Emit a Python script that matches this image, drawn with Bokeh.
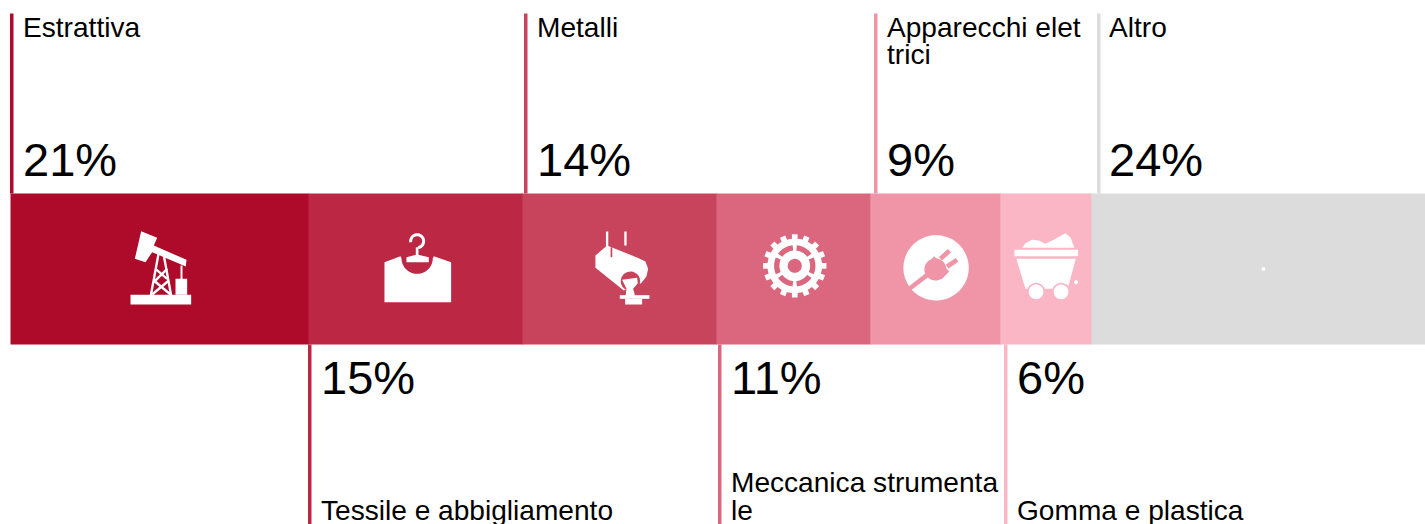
import numpy as np
from bokeh.plotting import figure
from bokeh.models import Range1d
from bokeh.core.properties import value
from bokeh.embed import file_html
from bokeh.resources import INLINE

# ---------- data ----------
categories = ["Estrattiva", "Tessile e abbigliamento", "Metalli", "Meccanica strumentale",
              "Apparecchi elettrici", "Gomma e plastica", "Altro"]
shares = [21.06, 15.12, 13.71, 10.88, 9.19, 6.43, 23.61]
percent_labels = ["21%", "15%", "14%", "11%", "9%", "6%", "24%"]
name_lines = [["Estrattiva"], ["Tessile e abbigliamento"], ["Metalli"], ["Meccanica strumenta", "le"],
              ["Apparecchi elet", "trici"], ["Gomma e plastica"], ["Altro"]]
colors = ["#ae0a2a", "#bc2744", "#c8445d", "#db677f", "#f095a8", "#fbb6c6", "#dcdcdc"]

# ---------- layout ----------
W, H = 1425, 524
PX_PER_UNIT = 14.15
ORIGIN_PX = 10
BAR_TOP, BAR_BOTTOM = 193, 344
CY = 268.5
LEADER_X = [9.5, 307.5, 523.5, 717.5, 873.5, 1003.5, 1096.5]
LEADER_W = 3.5
TOP_Y, BOTTOM_Y = 13, 524
TEXT_X = [22.5, 320.5, 536.5, 730.5, 886.5, 1016.5, 1108.5]
LINE_H = 27.5
SEAM = 0.04
NAME_PX, PCT_PX = 28.1, 47
# the svg backend draws "alphabetic" text lower than its y, in proportion to the size
NAME_SHIFT, PCT_SHIFT = 0.37 * NAME_PX, 0.37 * PCT_PX

p = figure(width=W, height=H, output_backend="svg", toolbar_location=None,
           x_range=Range1d(-ORIGIN_PX / PX_PER_UNIT, (W - ORIGIN_PX) / PX_PER_UNIT), y_range=Range1d(H, 0),
           min_border=0, min_border_left=0, min_border_right=0, min_border_top=0, min_border_bottom=0)
p.extra_x_ranges = {"px": Range1d(0, W)}
p.axis.visible = False
p.grid.visible = False
p.outline_line_color = None
p.background_fill_color = "white"
p.border_fill_color = "white"

# bars from the shares
cum = np.cumsum([0] + shares)
left, right = cum[:-1], cum[1:]
p.quad(left=left, right=right + SEAM, top=BAR_TOP, bottom=BAR_BOTTOM, fill_color=colors, line_color=None)

# leaders
lx = np.array(LEADER_X, dtype=float)
is_top = [i % 2 == 0 for i in range(len(shares))]
p.quad(left=lx, right=lx + LEADER_W,
       top=[TOP_Y if t else BAR_BOTTOM for t in is_top],
       bottom=[BAR_TOP if t else BOTTOM_Y for t in is_top],
       fill_color=colors, line_color=None, x_range_name="px")

# texts
FONT = value("Liberation Sans")
nx, ny, nt = [], [], []
px, py, pt = [], [], []
for i, lines in enumerate(name_lines):
    x = TEXT_X[i]
    n = len(lines)
    for j, line in enumerate(lines):
        if is_top[i]:
            y = 37 + j * LINE_H
        else:
            y = 520 - (n - 1 - j) * LINE_H
        nx.append(x); ny.append(y - NAME_SHIFT); nt.append(line)
    px.append(x); pt.append(percent_labels[i])
    py.append((176 if is_top[i] else 394) - PCT_SHIFT)
p.text(x=nx, y=ny, text=nt, text_font=FONT, text_font_size=f"{NAME_PX}px", text_color="#000000",
       text_baseline="alphabetic", text_align="left", x_range_name="px")
p.text(x=px, y=py, text=pt, text_font=FONT, text_font_size=f"{PCT_PX}px", text_color="#000000",
       text_baseline="alphabetic", text_align="left", x_range_name="px")

# ---------- icons (drawn in 1/3 px local units, placed on each bar's centre) ----------
WHITE = "#ffffff"
centres = ORIGIN_PX + (left + right) / 2 * PX_PER_UNIT
sx, sy, sc = [], [], []


def put(i, pts, u0, v0, col=WHITE):
    a = np.array(pts, dtype=float)
    sx.append(list(centres[i] + (a[:, 0] - u0) / 3))
    sy.append(list(CY + (a[:, 1] - v0) / 3))
    sc.append(col)


def disc(cu, cv, r, n=48, a0=0.0, a1=2 * np.pi):
    t = np.linspace(a0, a1, n)
    return np.c_[cu + r * np.cos(t), cv + r * np.sin(t)]


def sector(cu, cv, r0, r1, a0, a1, n=24):
    return np.r_[disc(cu, cv, r1, n, a0, a1), disc(cu, cv, r0, n, a1, a0)]


def stroke(p0, p1, w):
    a, b = np.array(p0, float), np.array(p1, float)
    d = b - a
    nrm = np.array([-d[1], d[0]]) / np.hypot(*d) * w / 2
    return np.array([a + nrm, b + nrm, b - nrm, a - nrm])


def rect(u0, v0, u1, v1):
    return [(u0, v0), (u1, v0), (u1, v1), (u0, v1)]


# oil pump
O = (477, 235.5)
put(0, rect(390, 313, 572, 342), *O)
put(0, [(422, 122), (470, 142), (460, 165), (558, 208), (556, 228), (455, 185), (435, 215), (403, 205)], *O)
put(0, rect(525, 265, 560, 313), *O)
put(0, stroke((543, 225), (543, 268), 6), *O)
for a, b in [((474, 190), (451, 315)), ((490, 195), (512, 315)), ((465, 235), (500, 265)),
             ((500, 235), (460, 275)), ((460, 270), (510, 312)), ((505, 270), (455, 312))]:
    put(0, stroke(a, b, 7), *O)

# shirt on hanger
B = colors[1]
S = (285, 235.5)
neck = disc(290, 203, 47, 30, np.pi, 0)
put(1, [(192, 335), (192, 215), (240, 197)] + [tuple(q) for q in neck] + [(340, 197), (392, 215), (392, 335)], *S)
put(1, [(258, 200), (290, 192), (325, 200), (325, 215), (258, 215)], *S)
put(1, sector(290, 152, 15, 24, np.pi * 0.95, np.pi * 2.45), *S)
put(1, stroke((290, 170), (290, 198), 8), *S)

# ladle
M = (897, 235.5)
B = colors[2]
put(2, stroke((860, 123), (860, 170), 7), *M)
put(2, stroke((915, 123), (915, 165), 7), *M)
put(2, [(825, 195), (860, 165), (955, 203), (975, 213), (983, 235), (978, 258), (962, 278),
        (945, 285), (910, 300), (825, 232)], *M)
put(2, stroke((873, 170), (873, 200), 5), *M, B)
put(2, [tuple(q) for q in disc(930, 272, 29, 30)], *M, B)
put(2, [(905, 268), (950, 262), (952, 278), (938, 295), (945, 320), (915, 320), (918, 295)], *M)
put(2, rect(898, 314, 987, 325), *M)
put(2, rect(914, 325, 965, 342), *M)

# gear
G = (219, 235.5)
B = colors[3]
gc = (223, 226)
for k in range(16):
    t = k * 2 * np.pi / 16
    a = (gc[0] + 70 * np.cos(t), gc[1] + 70 * np.sin(t))
    b = (gc[0] + 95 * np.cos(t), gc[1] + 95 * np.sin(t))
    put(3, stroke(a, b, 17), *G)
put(3, disc(gc[0], gc[1], 82), *G)
for k in range(6):
    a0 = k * np.pi / 3
    put(3, sector(gc[0], gc[1], 46, 62, a0 - 0.42, a0 + 0.42), *G, B)
put(3, disc(gc[0], gc[1], 21), *G, B)

# plug
L = (645, 235.5)
B = colors[4]
put(4, disc(647, 232, 98, 72), *L)
put(4, disc(645, 237, 33), *L, B)
put(4, stroke((640, 244), (664, 220), 64), *L, B)
put(4, stroke((625, 250), (560, 300), 14), *L, B)
put(4, stroke((660, 205), (687, 181), 14), *L, B)
put(4, stroke((680, 228), (710, 208), 14), *L, B)

# mine cart
C = (976.5, 235.5)
B = colors[5]
put(5, [(905, 172), (915, 158), (935, 148), (955, 150), (975, 160), (1000, 148), (1035, 128), (1050, 140), (1062, 172)], *C)
put(5, rect(882, 178, 1073, 197), *C)
put(5, [(888, 205), (1066, 205), (1042, 295), (915, 295)], *C)
for cu in (947, 1022):
    put(5, disc(cu, 304, 27), *C, B)
    put(5, disc(cu, 304, 22), *C)
put(5, disc(1067, 275, 6), *C)

# tiny mark on the last bar
put(6, rect(20, 31, 30, 41), 10, 36)

p.patches(xs=sx, ys=sy, fill_color=sc, line_color=None, x_range_name="px")

open("out.html", "w").write(file_html(p, INLINE))
